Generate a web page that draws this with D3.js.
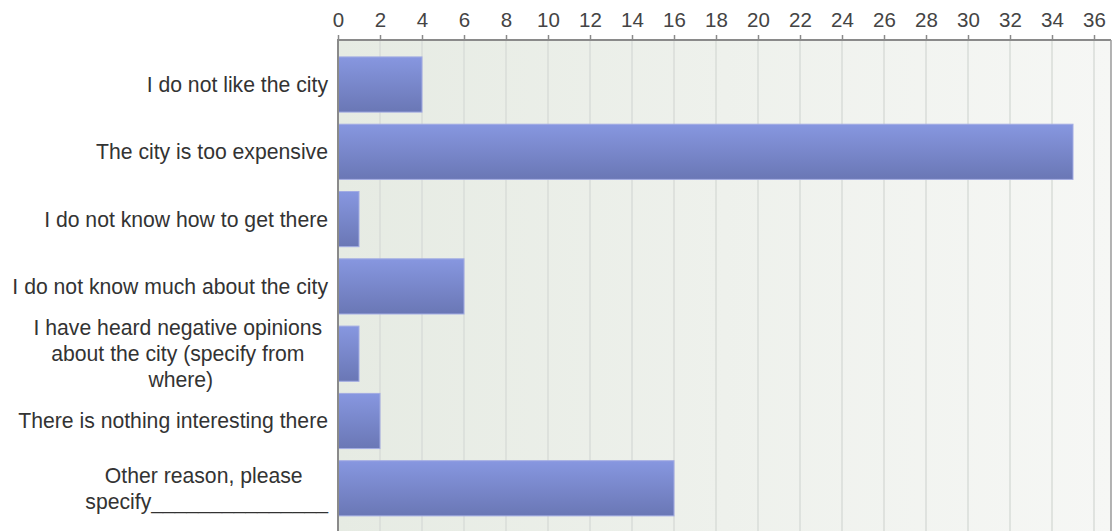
<!DOCTYPE html>
<html><head><meta charset="utf-8">
<script src="https://cdn.jsdelivr.net/npm/d3@7"></script>
<style>body{margin:0;background:#fff}svg{display:block}</style>
</head><body>
<svg id="c" width="1114" height="531"></svg>
<script>
const categories = [
  ["I do not like the city"],
  ["The city is too expensive"],
  ["I do not know how to get there"],
  ["I do not know much about the city"],
  ["I have heard negative opinions\u00A0", "about the city (specify from\u00A0", "where)"],
  ["There is nothing interesting there"],
  ["Other reason, please\u00A0", "specify_______________"]
];
const values = [4, 35, 1, 6, 1, 2, 16];
const tickValues = [0,2,4,6,8,10,12,14,16,18,20,22,24,26,28,30,32,34,36];

const svg = d3.select("#c");
const W = 1114, H = 531;
const left = 338, right = 1111, axisY = 40;
const x = d3.scaleLinear().domain([0, 36]).range([left, 1094]);
const keys = categories.map((c, i) => "k" + i);
const y = d3.scaleBand().domain(keys).range([44.8, 528]).padding(0.18);

const defs = svg.append("defs");
const bg = defs.append("linearGradient").attr("id", "bg").attr("x1", 0).attr("x2", 1).attr("y1", 0).attr("y2", 0);
bg.append("stop").attr("offset", 0).attr("stop-color", "#e6ebe3");
bg.append("stop").attr("offset", 1).attr("stop-color", "#f6f7f5");
const bar = defs.append("linearGradient").attr("id", "bar").attr("x1", 0).attr("x2", 0).attr("y1", 0).attr("y2", 1);
bar.append("stop").attr("offset", 0).attr("stop-color", "#8797e0");
bar.append("stop").attr("offset", 1).attr("stop-color", "#6a77b5");

svg.append("rect").attr("x", left).attr("y", axisY).attr("width", right - left).attr("height", H - axisY).attr("fill", "url(#bg)");

// gridlines
svg.append("g").selectAll("line").data(tickValues.filter(d => d > 0)).join("line")
  .attr("x1", d => x(d)).attr("x2", d => x(d)).attr("y1", axisY).attr("y2", H)
  .attr("stroke", "#d9dcd8").attr("stroke-width", 1.5);

// top axis
const ax = svg.append("g").attr("transform", `translate(0,${axisY})`)
  .call(d3.axisTop(x).tickValues(tickValues).tickSize(5).tickPadding(8).tickSizeOuter(0));
ax.select(".domain").remove();
ax.selectAll(".tick line").attr("stroke", "#8a8a8a").attr("stroke-width", 1.5);
ax.selectAll(".tick text").attr("fill", "#444").style("font-family", "'Liberation Sans', Arial, sans-serif").style("font-size", "20.5px");

// frame lines
svg.append("line").attr("x1", left - 1).attr("x2", right).attr("y1", axisY).attr("y2", axisY).attr("stroke", "#8a8a8a").attr("stroke-width", 2);
svg.append("line").attr("x1", right).attr("x2", right).attr("y1", axisY).attr("y2", H).attr("stroke", "#9a9a9a").attr("stroke-width", 1.5);

// bars
svg.append("g").selectAll("rect").data(values).join("rect")
  .attr("x", x(0)).attr("y", (d, i) => y(keys[i]))
  .attr("width", d => x(d) - x(0)).attr("height", y.bandwidth())
  .attr("fill", "url(#bar)").attr("stroke", "#a3ace3").attr("stroke-width", 1);

svg.append("line").attr("x1", left).attr("x2", left).attr("y1", axisY - 1).attr("y2", H).attr("stroke", "#8a8a8a").attr("stroke-width", 2);

// category labels
const lh = 26, labelRight = 328;
const lg = svg.append("g").style("font-family", "'Liberation Sans', Arial, sans-serif").style("font-size", "21.2px").attr("fill", "#333");
categories.forEach((lines, i) => {
  const cy = y(keys[i]) + y.bandwidth() / 2;
  if (lines.length === 1) {
    lg.append("text").attr("x", labelRight).attr("y", cy).attr("dy", "0.35em").attr("text-anchor", "end").text(lines[0]);
  } else {
    const g = lg.append("g");
    const ts = lines.map((t, j) => g.append("text").attr("y", cy + (j - (lines.length - 1) / 2) * lh).attr("dy", "0.35em").attr("text-anchor", "middle").text(t));
    const wmax = d3.max(ts, t => t.node().getComputedTextLength());
    ts.forEach(t => t.attr("x", labelRight - wmax / 2));
  }
});
</script>
</body></html>
